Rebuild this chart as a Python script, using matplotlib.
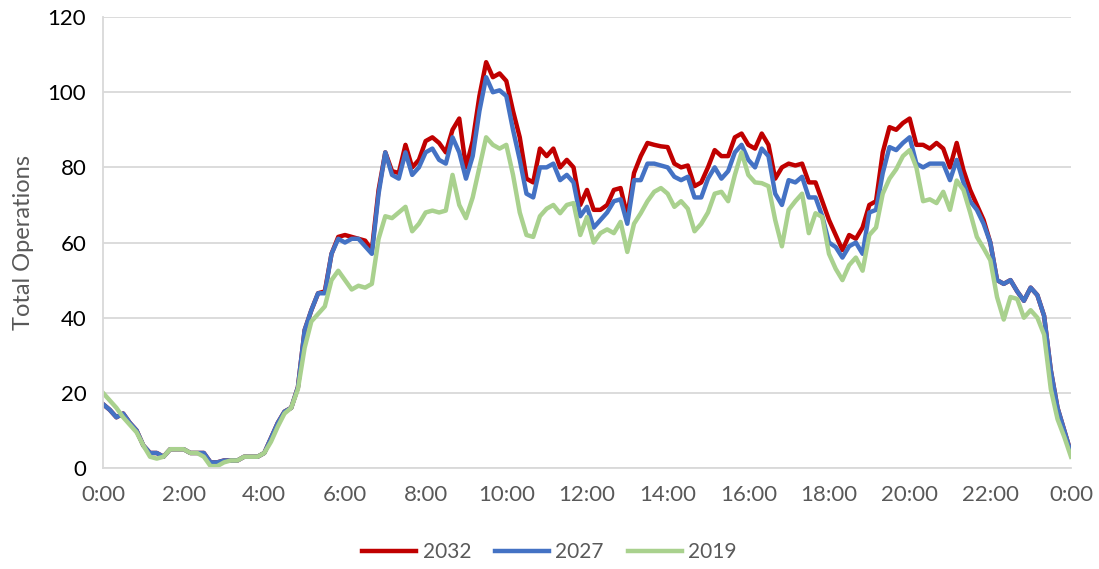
import numpy as np
import matplotlib.pyplot as plt

plt.rcParams['font.family'] = ['Lato', 'DejaVu Sans']

# 10-minute readings, 0:00 to 24:00
hours = np.arange(145) / 6.0

ops_2019 = [
    20, 18, 16, 13.5, 11.5, 9.5,
    6, 3, 2.5, 3, 5, 5,
    5, 4, 4, 3, 0.5, 0.5,
    1.5, 2, 2, 3, 3, 3,
    4, 7, 11, 14.5, 16, 21,
    32, 39, 41, 43, 50, 52.5,
    50, 47.5, 48.5, 48, 49, 61,
    67, 66.5, 68, 69.5, 63, 65,
    68, 68.5, 68, 68.5, 78, 70,
    66.5, 72, 80, 88, 86, 85,
    86, 78, 68, 62, 61.5, 67,
    69, 70, 67.8, 70, 70.5, 62,
    66.8, 60, 62.5, 63.5, 62.5, 65.5,
    57.5, 65, 67.8, 71, 73.5, 74.5,
    73, 69.5, 71, 69, 63, 65,
    68, 73, 73.5, 71, 78, 84,
    78, 76, 75.8, 75, 66, 59,
    68.7, 71, 73, 62.5, 67.8, 66.8,
    57, 53, 50, 54, 56, 52.5,
    62, 64, 73, 77, 79.5, 83,
    84.6, 80, 71, 71.5, 70.5, 73.5,
    68.7, 76.5, 74, 68, 61.5, 58.5,
    55.3, 45.5, 39.5, 45.5, 45, 40,
    42, 40, 35.5, 21, 13, 8.3,
    3,
]

ops_2027 = [
    17, 15.5, 13.5, 14.5, 12, 10,
    6, 4, 4, 3, 5, 5,
    5, 4, 4, 4, 1.5, 1.5,
    2, 2, 2, 3, 3, 3,
    4, 8, 12, 15, 16, 21.5,
    36.7, 42, 46.5, 46.5, 57, 61,
    60, 61, 61, 59, 57, 73,
    84, 78, 77, 84, 78, 80,
    84, 85, 82, 81, 88, 84,
    77, 83, 95, 104, 100, 100.5,
    99, 90, 82, 73, 72, 80,
    80, 81, 76.6, 78, 76, 67,
    69.5, 64, 66, 68, 71, 71.5,
    65, 76.6, 76.6, 81, 81, 80.5,
    80, 77.5, 76.6, 77.5, 72, 72,
    77, 80, 77, 79, 84, 86,
    82, 80, 85, 83, 73, 70,
    76.6, 76, 77.5, 72, 72, 67,
    60, 58.8, 56, 59, 60, 57,
    68, 68.7, 78.5, 85.4, 84.6, 86.5,
    88, 81, 80, 81, 81, 81,
    76.6, 82, 76, 71, 68.7, 65,
    60, 50, 49, 50, 47, 44.5,
    48, 46, 40.5, 26, 16, 10,
    4,
]

ops_2032 = [
    17, 15.5, 13.5, 14.5, 12, 10,
    6, 4, 4, 3, 5, 5,
    5, 4, 4, 4, 1.5, 1.5,
    2, 2, 2, 3, 3, 3,
    4, 8, 12, 15, 16, 21.5,
    36.7, 42, 46.5, 47, 57, 61.5,
    62, 61.5, 61, 60.5, 58, 74,
    84, 79, 78.5, 86, 80, 82,
    87, 88, 86.5, 84, 90, 93,
    80, 87, 99, 108, 104, 105,
    103, 95, 88, 77, 76, 85,
    83, 85, 80, 82, 80, 70,
    74, 68.7, 68.7, 70, 74, 74.5,
    67, 78.5, 83, 86.5, 86, 85.6,
    85.4, 81, 80, 80.5, 75, 76,
    80, 84.6, 83, 83, 88, 89,
    86, 85, 89, 86, 77, 80,
    81, 80.5, 81, 76, 76, 71,
    66, 62, 58, 62, 61, 64,
    70, 71, 84, 90.7, 90, 91.8,
    93, 86, 86, 85, 86.5, 85,
    80, 86.5, 79.3, 74, 70, 66,
    60, 50, 49, 50, 47, 44.5,
    48, 46, 40.5, 26, 16, 10,
    4,
]

tick_hours = list(range(0, 25, 2))
tick_labels = [f"{h % 24}:00" for h in tick_hours]

fig = plt.figure(figsize=(10.99, 5.69), dpi=100)
ax = fig.add_axes([0.0937, 0.1775, 0.8808, 0.7925])

ax.plot(hours, ops_2032, color="#C00000", lw=3.2, label="2032")
ax.plot(hours, ops_2027, color="#4472C4", lw=3.2, label="2027")
ax.plot(hours, ops_2019, color="#A9D18E", lw=3.2, label="2019")

ax.set_xlim(0, 24)
ax.set_ylim(0, 120)
ax.set_yticks(range(0, 121, 20))
ax.set_xticks(tick_hours)
ax.set_xticklabels(tick_labels)
ax.grid(axis="y", color="#D9D9D9", lw=1.3)
ax.set_axisbelow(True)
for s in ["top", "right"]:
    ax.spines[s].set_visible(False)
ax.spines["left"].set_color("#D9D9D9")
ax.spines["bottom"].set_color("#D9D9D9")
ax.spines["left"].set_linewidth(1.3)
ax.spines["bottom"].set_linewidth(1.3)
ax.tick_params(axis="both", length=0, labelsize=16)
ax.tick_params(axis="x", pad=12, colors="#595959")
ax.tick_params(axis="y", pad=12, labelcolor="black")
ax.set_ylabel("Total Operations", fontsize=17, color="#595959", labelpad=10)

handles, labels = ax.get_legend_handles_labels()
leg = fig.legend(handles, labels, loc="center", bbox_to_anchor=(0.5, 0.029),
                 ncol=3, frameon=False, fontsize=15, handlelength=2.6,
                 columnspacing=1.15, handletextpad=0.3)
for t in leg.get_texts():
    t.set_color("#595959")

fig.savefig("out.png", dpi=100)
